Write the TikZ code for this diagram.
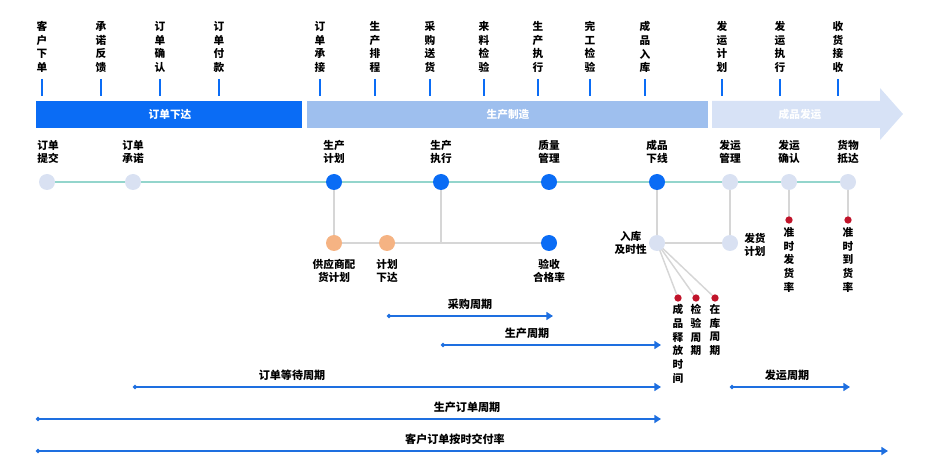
\documentclass[tikz,border=0pt]{standalone}
\usepackage{fontspec}
\setmainfont{Noto Sans CJK SC}
\usetikzlibrary{arrows.meta}
\definecolor{dblue}{HTML}{0A6CF5}
\definecolor{mblue}{HTML}{9EBFEE}
\definecolor{lblue}{HTML}{D7E2F6}
\definecolor{pale}{HTML}{D9E1F2}
\definecolor{teal}{HTML}{93D5CC}
\definecolor{gline}{HTML}{D6D6D6}
\definecolor{orng}{HTML}{F5B383}
\definecolor{rdot}{HTML}{C0142A}
\definecolor{abl}{HTML}{1E6FE0}
\begin{document}
\begin{tikzpicture}[x=0.75pt,y=-0.75pt,
  vt/.style={font=\fontsize{8}{10.3}\selectfont\bfseries,align=center,inner sep=0pt,anchor=north},
  lab/.style={font=\fontsize{8}{10}\selectfont\bfseries,align=center,inner sep=0pt},
  bar/.style={font=\fontsize{8}{9}\selectfont\bfseries,text=white},
  tick/.style={draw=dblue,line width=1.4pt},
  big/.style={circle,minimum size=12pt,inner sep=0pt},
  bn/.style={big,fill=dblue},
  ln/.style={big,fill=pale},
  on/.style={big,fill=orng},
  rd/.style={circle,minimum size=5.5pt,inner sep=0pt,fill=rdot},
  gl/.style={draw=gline,line width=1.4pt},
  per/.style={draw=abl,line width=1.3pt,{Circle[length=3pt]}-{Triangle[length=5pt,width=6pt]}},
  plab/.style={font=\fontsize{8.3}{9}\selectfont\bfseries,inner sep=0pt}]
\useasboundingbox (0,0) rectangle (927,466);
% top vertical labels and ticks
\foreach \x/\t in {42/客\\户\\下\\单,101/承\\诺\\反\\馈,160/订\\单\\确\\认,219/订\\单\\付\\款,320/订\\单\\承\\接,375/生\\产\\排\\程,430/采\\购\\送\\货,484/来\\料\\检\\验,538/生\\产\\执\\行,590/完\\工\\检\\验,645/成\\品\\入\\库,722/发\\运\\计\\划,780/发\\运\\执\\行,838/收\\货\\接\\收}{
  \node[vt] at (\x,21) {\t};
  \draw[tick] (\x,79) -- (\x,96);
}
% bar
\fill[dblue] (36,101) rectangle (302,128);
\fill[mblue] (307,101) rectangle (708,128);
\fill[lblue] (712,101) -- (880,101) -- (880,88) -- (903,114) -- (880,140) -- (880,128) -- (712,128) -- cycle;
\node[bar] (b1) at (170,114) {订单下达};
\node[bar] (b2) at (508,114) {生产制造};
\node[bar] (b3) at (800,114) {成品发运};
% timeline
\coordinate (tl0) at (47,182); \coordinate (tl1) at (848,182);
\draw[teal,line width=1.4pt] (tl0) -- (tl1);
% lower gray lines
\coordinate (j1) at (441,243);
\draw[gl] (334,182) -- (334,243) -- (549,243);
\draw[gl] (441,182) -- (j1);
\draw[gl] (657,182) -- (657,243) -- (730,243) -- (730,182);
\draw[gl] (789,182) -- (789,220);
\draw[gl] (848,182) -- (848,220);
\node[rd] (r1) at (678,298) {};
\node[rd] (r2) at (696,298) {};
\node[rd] (r3) at (715,298) {};
\foreach \r in {r1,r2,r3} \draw[gl,line width=1.1pt] (657,243) -- (\r);
% nodes
\node[ln] (n1) at (47,182) {};
\node[ln] (n2) at (133,182) {};
\node[bn] (n3) at (334,182) {};
\node[bn] (n4) at (441,182) {};
\node[bn] (n5) at (549,182) {};
\node[bn] (n6) at (657,182) {};
\node[ln] (n7) at (730,182) {};
\node[ln] (n8) at (789,182) {};
\node[ln] (n9) at (848,182) {};
\node[on] (o1) at (334,243) {};
\node[on] (o2) at (387,243) {};
\node[bn] (q1) at (549,243) {};
\node[ln] (q2) at (657,243) {};
\node[ln] (q3) at (730,243) {};
\node[rd] (r4) at (789,220) {};
\node[rd] (r5) at (848,220) {};
% labels above
\foreach \x/\t in {48/订单\\提交,133/订单\\承诺,334/生产\\计划,441/生产\\执行,549/质量\\管理,657/成品\\下线,730/发运\\管理,789/发运\\确认,848/货物\\抵达}
  \node[lab] at (\x,152) {\t};
\node[lab] at (334,271) {供应商配\\货计划};
\node[lab] at (387,271) {计划\\下达};
\node[lab] at (549,271) {验收\\合格率};
\node[lab,anchor=east] at (647,243) {入库\\及时性};
\node[lab,anchor=west] at (744,245) {发货\\计划};
\node[vt] at (789,227) {准\\时\\发\\货\\率};
\node[vt] at (848,227) {准\\时\\到\\货\\率};
\node[vt] at (678,304) {成\\品\\释\\放\\时\\间};
\node[vt] at (696,304) {检\\验\\周\\期};
\node[vt] at (715,304) {在\\库\\周\\期};
% period arrows
\foreach \a/\b/\y/\lx/\t in {387/553/316/470/采购周期,441/661/345/527/生产周期,133/661/387/292/订单等待周期,730/850/387/787/发运周期,36/661/419/467/生产订单周期,36/888/451/455/客户订单按时交付率}{
  \coordinate (pa) at (\a,\y); \coordinate (pb) at (\b,\y);
  \draw[per] (pa) -- (pb);
  \node[plab] at (\lx,\y-12) {\t};
}
\end{tikzpicture}
\end{document}
